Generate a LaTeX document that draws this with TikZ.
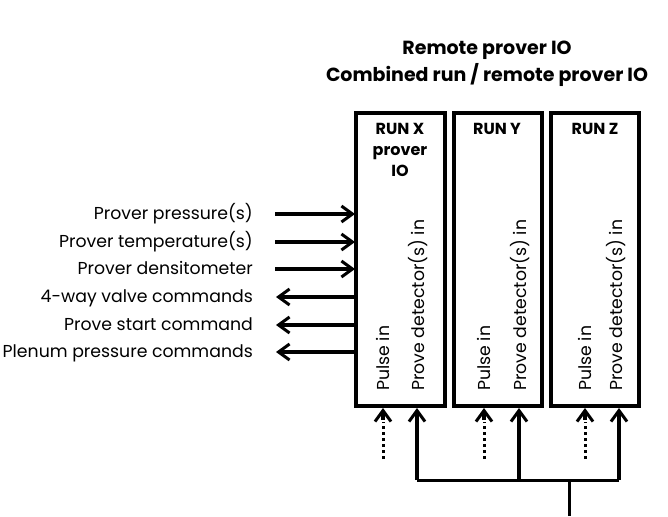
\documentclass[tikz,border=0pt]{standalone}
\usepackage{fontspec}
\setmainfont{Poppins}
\usetikzlibrary{arrows.meta}
\begin{document}
\begin{tikzpicture}[x=1pt,y=-1pt,
  every node/.style={inner sep=0pt, font=\fontsize{17.3}{20}\selectfont},
  box/.style={draw, line width=3.2pt},
  conn/.style={line width=3.3pt, -{Straight Barb[length=11pt,width=16pt,line width=3pt]}},
  dotconn/.style={line width=3pt, dash pattern=on 3pt off 3pt},
  head/.style={font=\fontsize{16}{18}\selectfont\bfseries, anchor=base},
  title/.style={font=\fontsize{19}{22}\selectfont\bfseries, anchor=base},
  lbl/.style={anchor=base east},
  vlbl/.style={rotate=90, anchor=base west}]
\useasboundingbox (0,0) rectangle (668,516);
% titles
\node[title] (t1) at (487,55) {Remote prover IO};
\node[title] (t2) at (487,82) {Combined run / remote prover IO};
% boxes
\draw[box] (356,113) rectangle (445,406);
\draw[box] (454,113) rectangle (542,406);
\draw[box] (551,113) rectangle (639,406);
% headers
\node[head] (hx) at (400,134) {RUN X};
\node[head] (hx2) at (400,155) {prover};
\node[head] (hx3) at (400,176) {IO};
\node[head] (hy) at (497,134) {RUN Y};
\node[head] (hz) at (595,134) {RUN Z};
% vertical labels
\node[vlbl] (px) at (389,391) {Pulse in};
\node[vlbl] (dx) at (424,391) {Prove detector(s) in};
\node[vlbl] (py) at (490,391) {Pulse in};
\node[vlbl] (dy) at (526,391) {Prove detector(s) in};
\node[vlbl] (pz) at (591,391) {Pulse in};
\node[vlbl] (dz) at (622,391) {Prove detector(s) in};
% left labels
\node[lbl] (l1) at (253,219) {Prover pressure(s)};
\node[lbl] (l2) at (253,247) {Prover temperature(s)};
\node[lbl] (l3) at (253,274) {Prover densitometer};
\node[lbl] (l4) at (253,302) {4-way valve commands};
\node[lbl] (l5) at (253,330) {Prove start command};
\node[lbl] (l6) at (253,357) {Plenum pressure commands};
% left connectors
\coordinate (a1) at (275,214); \coordinate (b1) at (355,214);
\coordinate (a2) at (275,242); \coordinate (b2) at (355,242);
\coordinate (a3) at (275,269); \coordinate (b3) at (355,269);
\coordinate (a4) at (276,297); \coordinate (b4) at (355,297);
\coordinate (a5) at (276,325); \coordinate (b5) at (355,325);
\coordinate (a6) at (276,352); \coordinate (b6) at (355,352);
\draw[conn] (a1) -- (b1);
\draw[conn] (a2) -- (b2);
\draw[conn] (a3) -- (b3);
\draw[conn] (b4) -- (a4);
\draw[conn] (b5) -- (a5);
\draw[conn] (b6) -- (a6);
% bottom pulse arrows (dotted)
\foreach \x/\n in {383/x,484/y,585/z}{
  \coordinate (ps\n) at (\x,459);
  \coordinate (pe\n) at (\x,408);
  \draw[dotconn] (ps\n) -- (\x,422);
  \draw[conn] (\x,420) -- (pe\n);
}
% prove detector tree
\coordinate (s) at (569,516);
\coordinate (j) at (569,480);
\coordinate (jx) at (417,480);
\coordinate (jz) at (619,480);
\coordinate (jy) at (519,480);
\draw[line width=3pt] (s) -- (j);
\draw[line width=3pt] (jx) -- (jz);
\draw[conn] (jx) -- (417,408);
\draw[conn] (jy) -- (519,408);
\draw[conn] (jz) -- (619,408);
\end{tikzpicture}
\end{document}
